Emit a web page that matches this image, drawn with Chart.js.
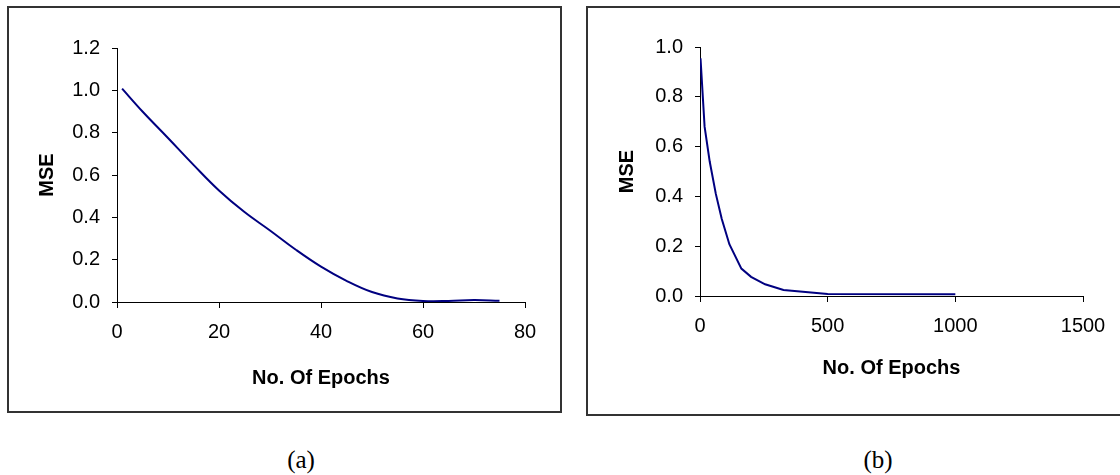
<!DOCTYPE html>
<html>
<head>
<meta charset="utf-8">
<script src="https://cdn.jsdelivr.net/npm/chart.js@4.4.1/dist/chart.umd.min.js"></script>
<style>
  body { margin: 0; width: 1120px; height: 475px; background: #fff; position: relative; overflow: hidden; }
  .box { position: absolute; border: 2px solid #333; box-sizing: border-box; }
  canvas { position: absolute; }
  .cap { position: absolute; font-family: "Liberation Serif", "Times New Roman", serif; font-size: 25px; width: 80px; text-align: center; line-height: 26px; }
</style>
</head>
<body>
<div class="box" style="left:7px; top:6px; width:555px; height:407px;"></div>
<div class="box" style="left:586px; top:6px; width:560px; height:410px;"></div>
<canvas id="chartA" width="551" height="403" style="left:9px; top:8px;"></canvas>
<canvas id="chartB" width="538" height="406" style="left:588px; top:8px;"></canvas>
<div class="cap" style="left:261px; top:447px;">(a)</div>
<div class="cap" style="left:838px; top:447px;">(b)</div>
<script>
// (a) MSE vs epochs, first run
const epochsA = [1, 5, 10, 15, 20, 25, 30, 35, 40, 45, 50, 55, 60, 65, 70, 75];
const mseA = [1.008, 0.90, 0.775, 0.648, 0.527, 0.425, 0.338, 0.248, 0.167, 0.10, 0.047, 0.017, 0.005, 0.005, 0.009, 0.006];

// (b) MSE vs epochs, second run
const epochsB = [2, 18, 38, 62, 85, 115, 162, 200, 255, 327, 500, 1000];
const mseB = [0.955, 0.68, 0.54, 0.41, 0.31, 0.208, 0.11, 0.077, 0.047, 0.024, 0.008, 0.007];

const xTicksA = { min: 0, max: 80, step: 20 };
const yTicksA = { min: 0, max: 1.2, step: 0.2 };
const xTicksB = { min: 0, max: 1500, step: 500 };
const yTicksB = { min: 0, max: 1.0, step: 0.2 };

const tickFont = { family: 'Liberation Sans, Arial, sans-serif', size: 20 };
const titleFont = { family: 'Liberation Sans, Arial, sans-serif', size: 20, weight: 'bold' };

function makeChart(id, xs, ys, xt, yt, opt) {
  const pts = xs.map((x, i) => ({ x: x, y: ys[i] }));
  return new Chart(document.getElementById(id), {
    type: 'line',
    data: {
      datasets: [{
        data: pts,
        borderColor: '#000080',
        borderWidth: 2,
        pointRadius: 0,
        fill: false,
        tension: opt.tension
      }]
    },
    options: {
      responsive: false,
      animation: false,
      events: [],
      layout: { padding: { left: 0, top: opt.top, right: opt.right, bottom: opt.bottom } },
      plugins: { legend: { display: false }, tooltip: { enabled: false } },
      scales: {
        x: {
          type: 'linear',
          min: xt.min, max: xt.max,
          afterFit: s => { s.height = opt.xh; },
          ticks: { stepSize: xt.step, color: '#000', font: tickFont, padding: 12, maxRotation: 0, callback: v => String(v) },
          grid: { drawOnChartArea: false, drawTicks: true, tickLength: 6, color: '#000' },
          border: { color: '#000', width: 1 },
          title: { display: true, text: 'No. Of Epochs', color: '#000', font: titleFont, padding: { top: 0, bottom: opt.xtPad } }
        },
        y: {
          min: yt.min, max: yt.max,
          afterFit: s => { s.width = opt.yw; },
          ticks: { stepSize: yt.step, color: '#000', font: tickFont, padding: 12, callback: v => v.toFixed(1) },
          grid: { drawOnChartArea: false, drawTicks: true, tickLength: 5, color: '#000' },
          border: { color: '#000', width: 1 },
          title: { display: true, text: 'MSE', color: '#000', font: titleFont, padding: { top: opt.ytPad, bottom: 0 } }
        }
      }
    }
  });
}

makeChart('chartA', epochsA, mseA, xTicksA, yTicksA,
  { tension: 0.4, top: 40, right: 35, bottom: 19, xh: 90, yw: 108, xtPad: 2, ytPad: 26 });
makeChart('chartB', epochsB, mseB, xTicksB, yTicksB,
  { tension: 0, top: 39, right: 43, bottom: 28, xh: 90, yw: 112, xtPad: 6, ytPad: 27 });
</script>
</body>
</html>
